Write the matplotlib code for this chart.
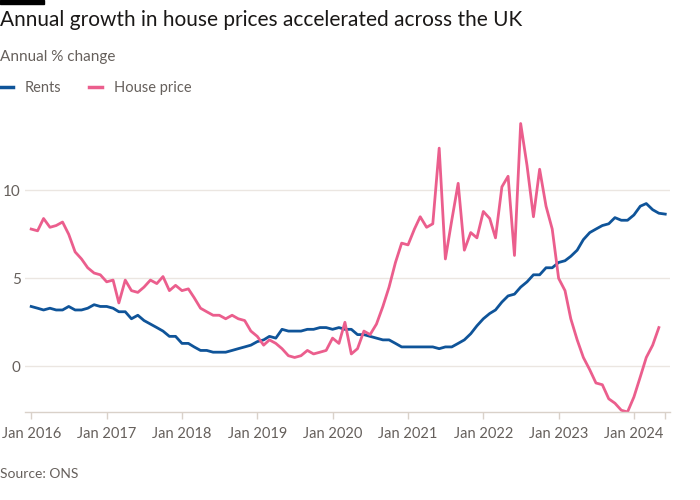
import matplotlib
matplotlib.use("Agg")
import matplotlib.pyplot as plt
import matplotlib.patches as mpatches
from matplotlib.lines import Line2D
import pandas as pd

plt.rcParams['font.family'] = ['Lato', 'DejaVu Sans']

# monthly data, Jan 2016 onwards
rents = [3.4, 3.3, 3.2, 3.3, 3.2, 3.2, 3.4, 3.2, 3.2, 3.3,
         3.5, 3.4, 3.4, 3.3, 3.1, 3.1, 2.7, 2.9, 2.6, 2.4,
         2.2, 2.0, 1.7, 1.7, 1.3, 1.3, 1.1, 0.9, 0.9, 0.8,
         0.8, 0.8, 0.9, 1.0, 1.1, 1.2, 1.4, 1.5, 1.7, 1.6,
         2.1, 2.0, 2.0, 2.0, 2.1, 2.1, 2.2, 2.2, 2.1, 2.2,
         2.1, 2.1, 1.8, 1.8, 1.7, 1.6, 1.5, 1.5, 1.3, 1.1,
         1.1, 1.1, 1.1, 1.1, 1.1, 1.0, 1.1, 1.1, 1.3, 1.5,
         1.85, 2.3, 2.7, 3.0, 3.2, 3.65, 4.0, 4.1, 4.5, 4.8,
         5.2, 5.2, 5.6, 5.6, 5.9, 6.0, 6.25, 6.6, 7.2, 7.6,
         7.8, 8.0, 8.1, 8.45, 8.3, 8.3, 8.6, 9.1, 9.25, 8.9,
         8.7, 8.65]

house_price = [7.8, 7.7, 8.4, 7.9, 8.0, 8.2, 7.5, 6.5, 6.1, 5.6,
               5.3, 5.2, 4.8, 4.9, 3.6, 4.9, 4.3, 4.2, 4.5, 4.9,
               4.7, 5.1, 4.3, 4.6, 4.3, 4.4, 3.9, 3.3, 3.1, 2.9,
               2.9, 2.7, 2.9, 2.7, 2.6, 2.0, 1.7, 1.2, 1.5, 1.3,
               1.0, 0.6, 0.5, 0.6, 0.9, 0.7, 0.8, 0.9, 1.6, 1.3,
               2.5, 0.7, 1.0, 2.0, 1.8, 2.4, 3.4, 4.5, 5.9, 7.0,
               6.9, 7.8, 8.5, 7.9, 8.1, 12.4, 6.1, 8.3, 10.4, 6.6,
               7.6, 7.3, 8.8, 8.4, 7.3, 10.2, 10.8, 6.3, 13.8, 11.4,
               8.5, 11.2, 9.1, 7.8, 5.0, 4.3, 2.7, 1.5, 0.5, -0.2,
               -0.95, -1.05, -1.85, -2.1, -2.5, -2.6, -1.75, -0.6, 0.5, 1.2,
               2.2]

rent_dates = pd.date_range('2016-01-01', periods=len(rents), freq='MS')
hp_dates = pd.date_range('2016-01-01', periods=len(house_price), freq='MS')

years = list(range(2016, 2025))
tick_labels = ['Jan %d' % y for y in years]

blue = '#0f5499'
pink = '#eb5e8d'
grid_col = '#ebe6e1'
axis_col = '#d9d1c9'
text_grey = '#66605c'

fig = plt.figure(figsize=(7, 5), dpi=100)
ax = fig.add_axes([25 / 700, 1 - 412 / 500, 645 / 700, 292 / 500])

ax.plot(rent_dates, rents, color=blue, lw=2.0, solid_joinstyle='round')
ax.plot(hp_dates, house_price, color=pink, lw=2.0, solid_joinstyle='round')

ax.set_xlim(pd.Timestamp('2015-12-02'), pd.Timestamp('2024-06-24'))
ax.set_ylim(-2.6, 14.0)

ax.set_yticks([0, 5, 10])
ax.set_yticklabels(['0', '5', '10'])
ax.yaxis.grid(True, color=grid_col, lw=1)
ax.set_axisbelow(True)

xt = [pd.Timestamp('%d-01-01' % y) for y in years] + [pd.Timestamp('2024-06-01')]
ax.set_xticks(xt)
ax.set_xticklabels(tick_labels + [''])

for s in ['top', 'right', 'left']:
    ax.spines[s].set_visible(False)
ax.spines['bottom'].set_color(axis_col)
ax.spines['bottom'].set_linewidth(1)

ax.tick_params(axis='y', length=0, pad=3, labelsize=11, labelcolor=text_grey)
ax.tick_params(axis='x', length=5, width=1, color=axis_col, pad=6,
               labelsize=10.5, labelcolor=text_grey)

# header
fig.patches.append(mpatches.Rectangle((0, 1 - 4 / 500), 44 / 700, 4 / 500,
                                      transform=fig.transFigure,
                                      color='black', zorder=5))
fig.text(0, 1 - 20 / 500, 'Annual growth in house prices accelerated across the UK',
         fontsize=15, color='#1a1817', va='center', ha='left')
fig.text(0, 1 - 57 / 500, 'Annual % change', fontsize=11, color=text_grey,
         va='center', ha='left')

handles = [Line2D([], [], color=blue, lw=2.5), Line2D([], [], color=pink, lw=2.5)]
fig.legend(handles, ['Rents', 'House price'], loc='center left',
           bbox_to_anchor=(0, 1 - 88 / 500), ncol=2, frameon=False,
           handlelength=0.9, handletextpad=0.8, columnspacing=1.9,
           borderaxespad=0, borderpad=0, fontsize=10.5, labelcolor=text_grey)

fig.text(0, 1 - 474 / 500, 'Source: ONS', fontsize=10, color=text_grey,
         va='center', ha='left')

fig.savefig('out.png', dpi=100, facecolor='white')
